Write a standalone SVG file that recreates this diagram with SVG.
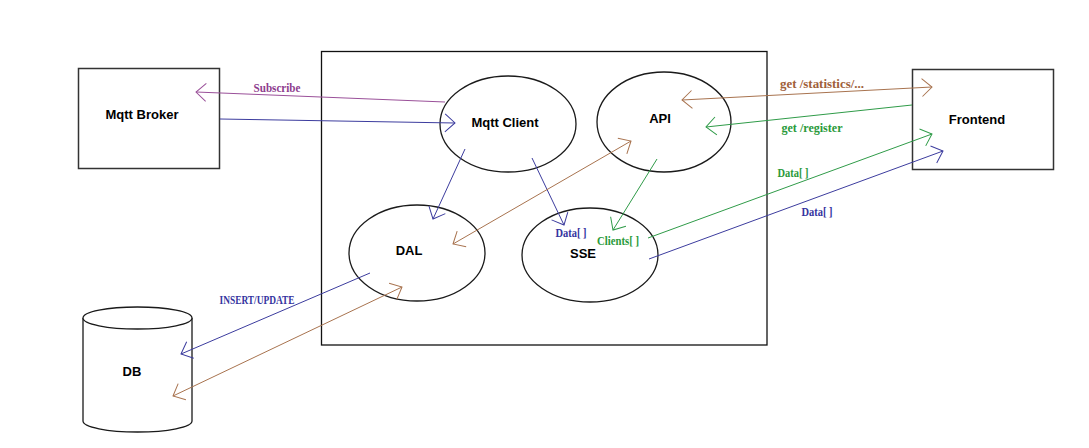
<svg xmlns="http://www.w3.org/2000/svg" width="1089" height="448" viewBox="0 0 1089 448">
<style>
.node{fill:#fff;stroke:#1a1a1a;stroke-width:1.3}
.box{fill:#fff;stroke:#333;stroke-width:1.5}
.nl{font-family:"Liberation Sans",Arial,sans-serif;font-weight:bold;font-size:13px;fill:#000;text-anchor:middle}
.lbl{font-family:"Liberation Serif","Times New Roman",serif;font-weight:bold;font-size:12px;text-anchor:middle}
.c{fill:none;stroke-width:1}
.purple{stroke:#9a5099}
.blue{stroke:#3c3c9e}
.brown{stroke:#a8734f}
.green{stroke:#2f9b48}
</style>
<defs>
<marker id="m-purple" viewBox="-12 -11 14 22" refX="0" refY="0" markerWidth="14" markerHeight="22" markerUnits="userSpaceOnUse" orient="auto-start-reverse"><path d="M-10,-9 L0,0 L-10,9" fill="none" stroke="#9a5099"/></marker>
<marker id="m-blue" viewBox="-12 -11 14 22" refX="0" refY="0" markerWidth="14" markerHeight="22" markerUnits="userSpaceOnUse" orient="auto-start-reverse"><path d="M-10,-9 L0,0 L-10,9" fill="none" stroke="#3c3c9e"/></marker>
<marker id="m-brown" viewBox="-12 -11 14 22" refX="0" refY="0" markerWidth="14" markerHeight="22" markerUnits="userSpaceOnUse" orient="auto-start-reverse"><path d="M-10,-9 L0,0 L-10,9" fill="none" stroke="#a8734f"/></marker>
<marker id="m-green" viewBox="-12 -11 14 22" refX="0" refY="0" markerWidth="14" markerHeight="22" markerUnits="userSpaceOnUse" orient="auto-start-reverse"><path d="M-10,-9 L0,0 L-10,9" fill="none" stroke="#2f9b48"/></marker>
</defs>
<rect width="1089" height="448" fill="#fff"/>
<g id="container"><rect x="321.5" y="51.5" width="445.5" height="293.5" fill="none" stroke="#111" stroke-width="1.3"/></g>
<g id="mqtt-broker"><rect class="box" x="78.5" y="68.5" width="141" height="100"/><text class="nl" x="142" y="119">Mqtt Broker</text></g>
<g id="frontend"><rect class="box" x="912.5" y="69.5" width="141" height="100"/><text class="nl" x="977" y="124">Frontend</text></g>
<g id="db">
<path class="node" d="M83,318 L83,421 A54.5,11 0 0 0 192,421 L192,318"/>
<ellipse class="node" cx="137.5" cy="318" rx="54.5" ry="11"/>
<text class="nl" x="132" y="376">DB</text></g>
<g id="mqtt-client"><ellipse class="node" cx="508" cy="124" rx="68" ry="48"/><text class="nl" x="505" y="127">Mqtt Client</text></g>
<g id="api"><ellipse class="node" cx="664" cy="122" rx="67" ry="50"/><text class="nl" x="660" y="123">API</text></g>
<g id="dal"><ellipse class="node" cx="417" cy="253" rx="68" ry="48"/><text class="nl" x="409" y="255">DAL</text></g>
<g id="sse"><ellipse class="node" cx="590" cy="255" rx="68" ry="47"/><text class="nl" x="583" y="258">SSE</text></g>
<g id="connectors">
<path class="c purple" d="M445,102 L196,92" marker-end="url(#m-purple)"/>
<path class="c blue" d="M220,119 L455,123" marker-end="url(#m-blue)"/>
<path class="c blue" d="M465,149 L433,219" marker-end="url(#m-blue)"/>
<path class="c blue" d="M532,158 L564,225" marker-end="url(#m-blue)"/>
<path class="c brown" d="M453,244 L631,141" marker-start="url(#m-brown)" marker-end="url(#m-brown)"/>
<path class="c green" d="M657,159 L613,230" marker-end="url(#m-green)"/>
<path class="c brown" d="M682,100 L932,87" marker-start="url(#m-brown)" marker-end="url(#m-brown)"/>
<path class="c green" d="M912,105 L706,127" marker-end="url(#m-green)"/>
<path class="c green" d="M648,238 L932,134" marker-end="url(#m-green)"/>
<path class="c blue" d="M649,259 L943,151" marker-end="url(#m-blue)"/>
<path class="c blue" d="M370,273 L181,354" marker-end="url(#m-blue)"/>
<path class="c brown" d="M173,396 L402,287" marker-start="url(#m-brown)" marker-end="url(#m-brown)"/>
<text class="lbl" x="277" y="92" fill="#8e3c8e" textLength="47" lengthAdjust="spacingAndGlyphs">Subscribe</text>
<text class="lbl" x="822" y="88" fill="#a0603a" textLength="84" lengthAdjust="spacingAndGlyphs">get /statistics/...</text>
<text class="lbl" x="812" y="132" fill="#2a9a3a" textLength="61" lengthAdjust="spacingAndGlyphs">get /register</text>
<text class="lbl" x="793" y="177" fill="#2a9a3a" textLength="31" lengthAdjust="spacingAndGlyphs">Data[ ]</text>
<text class="lbl" x="817" y="216" fill="#3434a0" textLength="31" lengthAdjust="spacingAndGlyphs">Data[ ]</text>
<text class="lbl" x="571" y="237" fill="#3434a0" textLength="31" lengthAdjust="spacingAndGlyphs">Data[ ]</text>
<text class="lbl" x="618" y="245" fill="#2a9a3a" textLength="42" lengthAdjust="spacingAndGlyphs">Clients[ ]</text>
<text class="lbl" x="257" y="304" fill="#3434a0" textLength="75" lengthAdjust="spacingAndGlyphs">INSERT/UPDATE</text>
</g>
</svg>
